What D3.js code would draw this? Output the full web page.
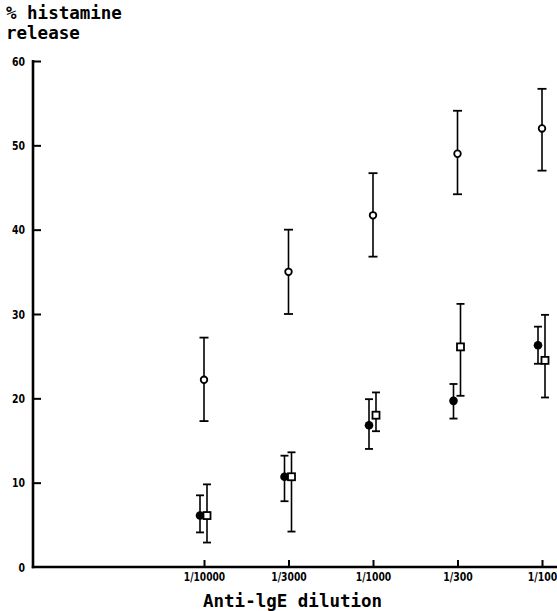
<!DOCTYPE html>
<html>
<head>
<meta charset="utf-8">
<script src="https://cdn.jsdelivr.net/npm/d3@7"></script>
<style>
  html, body { margin: 0; padding: 0; background: #fff; }
  svg { display: block; }
</style>
</head>
<body>
<svg id="chart" width="557" height="611"></svg>
<script>
// ---- data ----
const categories = ["1/10000", "1/3000", "1/1000", "1/300", "1/100"];
const yTicks = [0, 10, 20, 30, 40, 50, 60];

const openMean = [22.2, 35.0, 41.7, 49.0, 52.0];
const openLow  = [17.3, 30.0, 36.8, 44.2, 47.0];
const openHigh = [27.2, 40.0, 46.7, 54.1, 56.7];

const filledMean = [6.1, 10.7, 16.8, 19.7, 26.3];
const filledLow  = [4.1, 7.8, 14.0, 17.6, 24.1];
const filledHigh = [8.5, 13.2, 19.9, 21.7, 28.5];

const squareMean = [6.1, 10.7, 18.0, 26.1, 24.5];
const squareLow  = [2.9, 4.2, 16.1, 20.3, 20.1];
const squareHigh = [9.8, 13.6, 20.7, 31.2, 29.9];

// ---- layout ----
const svg = d3.select("#chart");
const x0 = 33, xEnd = 557;
const x = d3.scalePoint().domain(categories).range([204, 542]);
const y = d3.scaleLinear().domain([0, 60]).range([567, 61]);

const monoFont = "'DejaVu Sans Mono', monospace";
const tickFont = "'DejaVu Sans Condensed', 'DejaVu Sans', sans-serif";

// axis lines
svg.append("line").attr("x1", x0).attr("x2", x0).attr("y1", y(60) - 1).attr("y2", y(0) + 1.2)
  .attr("stroke", "#000").attr("stroke-width", 2.6);
svg.append("line").attr("x1", x0 - 1.2).attr("x2", xEnd).attr("y1", y(0)).attr("y2", y(0))
  .attr("stroke", "#000").attr("stroke-width", 2.6);

// y axis ticks
const yAxis = d3.axisLeft(y).tickValues(yTicks).tickSizeInner(-8).tickSizeOuter(0).tickPadding(8);
const gy = svg.append("g").attr("transform", `translate(${x0},0)`).call(yAxis);
gy.select(".domain").remove();
gy.selectAll(".tick line").attr("stroke", "#000").attr("stroke-width", 2);
gy.selectAll(".tick").filter(d => d === 0).select("line").remove();
gy.selectAll(".tick text")
  .attr("font-family", tickFont).attr("font-weight", "bold").attr("font-size", 13)
  .attr("fill", "#000")
  .attr("textLength", d => String(d).length * 6.5).attr("lengthAdjust", "spacingAndGlyphs");

// x axis ticks
const xAxis = d3.axisBottom(x).tickSizeInner(-7).tickSizeOuter(0).tickPadding(5);
const gx = svg.append("g").attr("transform", `translate(0,${y(0)})`).call(xAxis);
gx.select(".domain").remove();
gx.selectAll(".tick line").attr("stroke", "#000").attr("stroke-width", 2);
gx.selectAll(".tick text")
  .attr("font-family", tickFont).attr("font-weight", "bold").attr("font-size", 13)
  .attr("fill", "#000")
  .attr("textLength", d => d.length * 5.9).attr("lengthAdjust", "spacingAndGlyphs");

// titles
svg.append("text").attr("x", 6).attr("y", 19).text("% histamine")
  .attr("font-family", monoFont).attr("font-weight", "bold").attr("font-size", 17.5);
svg.append("text").attr("x", 6).attr("y", 39).text("release")
  .attr("font-family", monoFont).attr("font-weight", "bold").attr("font-size", 17.5);
svg.append("text").attr("x", 203).attr("y", 607).text("Anti-lgE dilution")
  .attr("font-family", monoFont).attr("font-weight", "bold").attr("font-size", 17.5);

// series
const series = [
  { mean: openMean, low: openLow, high: openHigh, dx: 0, shape: "openCircle", cap: 9 },
  { mean: filledMean, low: filledLow, high: filledHigh, dx: -4, shape: "filledCircle", cap: 8 },
  { mean: squareMean, low: squareLow, high: squareHigh, dx: 3, shape: "square", cap: 8 }
];

series.forEach(s => {
  const data = categories.map((c, i) => ({ c, m: s.mean[i], lo: s.low[i], hi: s.high[i] }));
  const g = svg.append("g");
  const cx = d => x(d.c) + s.dx;
  g.selectAll("line.bar").data(data).join("line")
    .attr("x1", cx).attr("x2", cx).attr("y1", d => y(d.lo)).attr("y2", d => y(d.hi))
    .attr("stroke", "#000").attr("stroke-width", 1.6);
  g.selectAll("line.capHi").data(data).join("line")
    .attr("x1", d => cx(d) - s.cap / 2).attr("x2", d => cx(d) + s.cap / 2)
    .attr("y1", d => y(d.hi)).attr("y2", d => y(d.hi))
    .attr("stroke", "#000").attr("stroke-width", 1.8);
  g.selectAll("line.capLo").data(data).join("line")
    .attr("x1", d => cx(d) - s.cap / 2).attr("x2", d => cx(d) + s.cap / 2)
    .attr("y1", d => y(d.lo)).attr("y2", d => y(d.lo))
    .attr("stroke", "#000").attr("stroke-width", 1.8);
  if (s.shape === "openCircle") {
    g.selectAll("circle").data(data).join("circle")
      .attr("cx", cx).attr("cy", d => y(d.m)).attr("r", 3.3)
      .attr("fill", "#fff").attr("stroke", "#000").attr("stroke-width", 1.8);
  } else if (s.shape === "filledCircle") {
    g.selectAll("circle").data(data).join("circle")
      .attr("cx", cx).attr("cy", d => y(d.m)).attr("r", 4.3)
      .attr("fill", "#000");
  } else {
    g.selectAll("rect").data(data).join("rect")
      .attr("x", d => cx(d) - 3.5).attr("y", d => y(d.m) - 3.5)
      .attr("width", 7).attr("height", 7)
      .attr("fill", "#fff").attr("stroke", "#000").attr("stroke-width", 1.8);
  }
});
</script>
</body>
</html>
